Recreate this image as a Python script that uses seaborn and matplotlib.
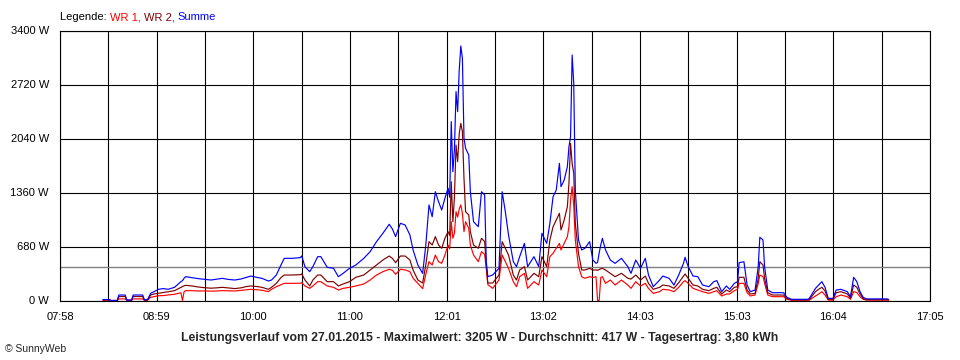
import numpy as np
import pandas as pd
import matplotlib
matplotlib.use("Agg")
import matplotlib.pyplot as plt
import seaborn as sns

# --- Daten ---
zeiten = [
    "08:25", "08:29", "08:30", "08:34", "08:35", "08:39", "08:40", "08:43", "08:44", "08:50",
    "08:51", "08:53", "08:55", "08:57", "09:00", "09:03", "09:06", "09:10", "09:14", "09:15",
    "09:16", "09:17", "09:21", "09:25", "09:29", "09:33", "09:37", "09:40", "09:44", "09:48",
    "09:52", "09:55", "09:58", "10:02", "10:05", "10:09", "10:11", "10:14", "10:17", "10:19",
    "10:24", "10:29", "10:30", "10:32", "10:35", "10:37", "10:40", "10:42", "10:46", "10:50",
    "10:53", "10:56", "11:00", "11:04", "11:09", "11:13", "11:17", "11:21", "11:25", "11:27",
    "11:29", "11:32", "11:35", "11:38", "11:40", "11:43", "11:46", "11:48", "11:50", "11:52",
    "11:54", "11:56", "11:58", "12:00", "12:02", "12:03", "12:04", "12:05", "12:06", "12:07",
    "12:08", "12:09", "12:10", "12:11", "12:12", "12:13", "12:15", "12:16", "12:18", "12:21",
    "12:23", "12:25", "12:26", "12:27", "12:30", "12:34", "12:36", "12:38", "12:40", "12:43",
    "12:45", "12:47", "12:50", "12:52", "12:56", "12:59", "13:01", "13:04", "13:06", "13:08",
    "13:10", "13:12", "13:13", "13:15", "13:17", "13:18", "13:19", "13:20", "13:21", "13:22",
    "13:24", "13:26", "13:28", "13:31", "13:33", "13:35", "13:36", "13:37", "13:38", "13:39",
    "13:41", "13:44", "13:47", "13:51", "13:55", "13:57", "14:00", "14:03", "14:06", "14:08",
    "14:11", "14:15", "14:17", "14:21", "14:24", "14:27", "14:30", "14:31", "14:33", "14:36",
    "14:39", "14:42", "14:46", "14:49", "14:51", "14:54", "14:57", "14:59", "15:02", "15:04",
    "15:05", "15:08", "15:10", "15:12", "15:15", "15:17", "15:18", "15:20", "15:21", "15:23",
    "15:26", "15:33", "15:35", "15:38", "15:48", "15:49", "15:53", "15:55", "15:57", "15:59",
    "16:01", "16:04", "16:06", "16:09", "16:13", "16:15", "16:17", "16:19", "16:21", "16:23",
    "16:25", "16:38", "16:39",
]

summe = [
    12, 12, 0, 0, 69, 69, 5, 5, 69, 69,
    10, 10, 90, 111, 141, 150, 141, 166, 237, 250,
    280, 300, 287, 275, 267, 258, 270, 279, 265, 258,
    272, 290, 308, 290, 279, 245, 258, 321, 450, 531,
    531, 540, 560, 426, 363, 426, 552, 552, 418, 405,
    300, 342, 405, 447, 531, 615, 741, 846, 960, 900,
    804, 972, 951, 825, 636, 447, 342, 700, 1203, 1055,
    1370, 1244, 1140, 1287, 1413, 1300, 2252, 1622, 1900, 2630,
    2378, 2900, 3205, 3050, 2043, 1916, 1832, 1370, 992, 929,
    1370, 1329, 489, 300, 321, 405, 1370, 1118, 825, 489,
    426, 552, 720, 426, 552, 426, 846, 720, 972, 1307,
    1391, 1727, 1433, 1517, 1685, 1937, 2063, 3092, 2735, 1391,
    762, 636, 657, 741, 510, 468, 480, 600, 700, 783,
    636, 510, 468, 531, 426, 342, 510, 405, 531, 321,
    174, 258, 308, 279, 195, 321, 468, 544, 426, 308,
    300, 195, 174, 237, 250, 111, 183, 141, 216, 237,
    476, 489, 195, 111, 132, 426, 796, 762, 426, 132,
    98, 98, 40, 15, 15, 23, 153, 195, 237, 166,
    27, 27, 132, 141, 111, 48, 292, 237, 111, 40,
    20, 20, 15,
]

wr2 = [
    6, 6, 0, 0, 50, 50, 3, 3, 50, 50,
    5, 5, 69, 82, 91, 100, 110, 124, 166, 175,
    185, 191, 183, 170, 161, 155, 160, 166, 158, 150,
    160, 175, 183, 175, 166, 141, 166, 216, 290, 321,
    321, 325, 334, 258, 183, 258, 321, 321, 237, 237,
    183, 208, 237, 292, 321, 384, 447, 510, 560, 530,
    476, 560, 560, 510, 384, 258, 220, 450, 741, 699,
    804, 699, 657, 783, 866, 820, 1496, 992, 1300, 1958,
    1748, 2100, 2231, 2126, 1539, 1118, 1077, 866, 699, 657,
    783, 741, 447, 220, 220, 321, 741, 657, 573, 321,
    258, 384, 426, 258, 342, 300, 552, 426, 762, 929,
    1013, 1098, 888, 1013, 1181, 1476, 1979, 1727, 1602, 972,
    594, 384, 384, 405, 384, 384, 380, 390, 400, 405,
    384, 342, 300, 342, 280, 270, 321, 258, 308, 216,
    141, 166, 195, 183, 153, 224, 308, 334, 279, 195,
    183, 141, 124, 153, 166, 82, 132, 111, 166, 174,
    292, 292, 132, 82, 90, 279, 489, 447, 279, 98,
    69, 69, 25, 8, 8, 10, 111, 141, 166, 120,
    15, 15, 98, 111, 82, 30, 195, 166, 82, 25,
    10, 10, 8,
]

wr1 = [
    4, 4, 0, 0, 20, 20, 2, 2, 20, 20,
    3, 3, 40, 48, 60, 62, 70, 78, 98, 0,
    110, 124, 124, 120, 120, 118, 120, 124, 122, 120,
    128, 135, 141, 135, 130, 111, 141, 174, 200, 216,
    216, 218, 224, 183, 153, 183, 237, 237, 183, 166,
    132, 153, 166, 183, 208, 258, 321, 363, 393, 380,
    330, 393, 385, 363, 280, 216, 150, 330, 489, 447,
    573, 489, 468, 573, 699, 650, 992, 783, 850, 1118,
    1050, 1150, 1203, 1100, 866, 992, 909, 699, 573, 489,
    615, 580, 405, 200, 153, 258, 573, 489, 405, 237,
    174, 300, 342, 153, 237, 195, 384, 300, 552, 594,
    657, 720, 636, 720, 804, 929, 1266, 1433, 1200, 762,
    426, 300, 280, 300, 290, 300, 0, 0, 290, 300,
    216, 258, 195, 258, 195, 153, 237, 183, 216, 153,
    90, 111, 141, 132, 111, 166, 237, 250, 216, 153,
    132, 111, 90, 111, 124, 57, 82, 82, 124, 141,
    216, 216, 98, 57, 69, 216, 321, 300, 216, 69,
    48, 48, 15, 3, 3, 3, 57, 82, 111, 70,
    5, 5, 48, 69, 48, 15, 111, 100, 48, 15,
    5, 5, 3,
]

serien = ["WR 1", "WR 2", "Summe"]
farben = {"WR 1": "#ff0000", "WR 2": "#800000", "Summe": "#0000ff"}

start_zeit = "07:58"
x_labels = ["07:58", "08:59", "10:00", "11:00", "12:01", "13:02", "14:03", "15:03", "16:04", "17:05"]
y_ticks = [0, 680, 1360, 2040, 2720, 3400]
durchschnitt = 417
titel = ("Leistungsverlauf vom 27.01.2015 - Maximalwert: 3205 W - "
         "Durchschnitt: 417 W - Tagesertrag: 3,80 kWh")


def to_min(s):
    h, m = s.split(":")
    return int(h) * 60 + int(m)


t0 = to_min(start_zeit)
minuten = [to_min(z) - t0 for z in zeiten]
x_ende = to_min(x_labels[-1]) - t0

frames = []
for name, werte in zip(serien, [wr1, wr2, summe]):
    frames.append(pd.DataFrame({"min": minuten, "W": werte, "Serie": name}))
df = pd.concat(frames, ignore_index=True)

sns.set_style("white")
plt.rcParams["font.family"] = ["Liberation Sans", "DejaVu Sans"]

fig = plt.figure(figsize=(9.6, 3.6), dpi=100)
ax = fig.add_axes([60 / 960, (360 - 300.5) / 360, 870 / 960, 270 / 360])

ax.axhline(durchschnitt, color="#808080", lw=1.0, zorder=1.5)
sns.lineplot(data=df, x="min", y="W", hue="Serie", hue_order=serien,
             palette=farben, estimator=None, sort=False, lw=0.85,
             legend=False, ax=ax, zorder=3)

# Achsen
n_int = 2 * (len(x_labels) - 1)
x_pos = np.linspace(0, x_ende, n_int + 1)
labels = []
for i in range(n_int + 1):
    labels.append(x_labels[i // 2] if i % 2 == 0 else "")
ax.set_xlim(0, x_ende)
ax.set_xticks(x_pos)
ax.set_xticklabels(labels)
ax.set_ylim(0, y_ticks[-1])
ax.set_yticks(y_ticks)
ax.set_yticklabels([f"{v} W" for v in y_ticks])
ax.set_xlabel("")
ax.set_ylabel("")

ax.grid(True, color="black", lw=0.8)
ax.set_axisbelow(True)
for sp in ax.spines.values():
    sp.set_color("black")
    sp.set_linewidth(0.8)
ax.tick_params(axis="both", direction="out", length=4, width=0.8, color="black",
               labelsize=8, labelcolor="black")
ax.tick_params(axis="y", pad=4)
ax.tick_params(axis="x", pad=4)

# Legende oben
t = fig.text(60 / 960, 1 - 22 / 360, "Legende: ", fontsize=8, color="black", va="bottom")
for name in serien:
    txt = name + (", " if name != serien[-1] else "")
    t = ax.annotate(txt, xy=(1, 0), xycoords=t, va="bottom", ha="left",
                    fontsize=8, color=farben[name], annotation_clip=False)

fig.text(0.5, 1 - 338 / 360, titel, ha="center", va="center", fontsize=8.8,
         fontweight="bold")
fig.text(5 / 960, 1 - 349 / 360, "© SunnyWeb", ha="left", va="center", fontsize=7.5)

fig.savefig("out.png", dpi=100)
plt.close(fig)
